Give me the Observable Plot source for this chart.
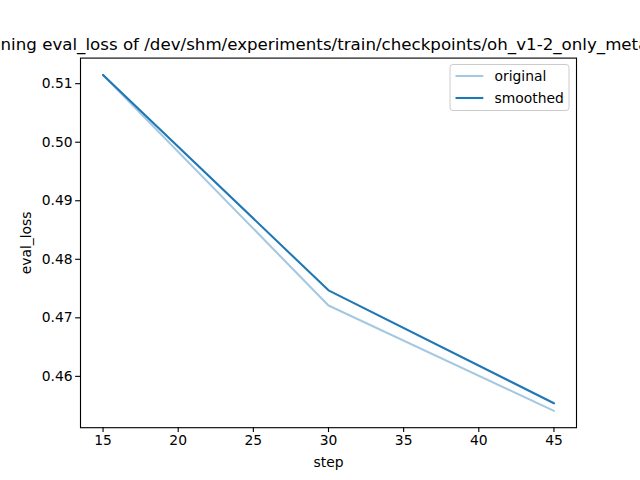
<!DOCTYPE html>
<html><head><meta charset="utf-8">
<script src="https://cdn.jsdelivr.net/npm/d3@7"></script>
<script src="https://cdn.jsdelivr.net/npm/@observablehq/plot@0.6"></script>
<style>
body{margin:0;background:#fff;}
#wrap{position:relative;width:640px;height:480px;font-family:"DejaVu Sans",sans-serif;}
#legend{position:absolute;left:0;top:0;pointer-events:none;}
</style></head><body><div id="wrap"></div>
<script>
const steps = [15, 30, 45];
const original = [0.5115, 0.4721, 0.4541];
const smoothed = [0.5115, 0.4747, 0.4554];
const xTicks = [15, 20, 25, 30, 35, 40, 45];
const yTicks = [0.46, 0.47, 0.48, 0.49, 0.50, 0.51];
const seriesNames = ["original", "smoothed"];
const seriesColors = ["#a5c8e1", "#1f77b4"];
const titleText = "Training eval_loss of /dev/shm/experiments/train/checkpoints/oh_v1-2_only_metadata";
const xLabel = "step";
const yLabel = "eval_loss";

const rows = [];
steps.forEach((s, i) => rows.push({step: s, value: original[i], series: seriesNames[0]}));
steps.forEach((s, i) => rows.push({step: s, value: smoothed[i], series: seriesNames[1]}));

const xExt = d3.extent(steps);
const xPad = (xExt[1] - xExt[0]) * 0.05;
const yExt = d3.extent(original.concat(smoothed));
const yPad = (yExt[1] - yExt[0]) * 0.05;

const pt = 100 / 72;
const fs = 10 * pt;
const plot = Plot.plot({
  width: 640, height: 480,
  marginLeft: 80, marginRight: 64, marginTop: 57.6, marginBottom: 52.8,
  style: {fontFamily: "'DejaVu Sans', sans-serif", fontSize: fs + "px", color: "#000", background: "#fff", overflow: "visible"},
  x: {domain: [xExt[0] - xPad, xExt[1] + xPad]},
  y: {domain: [yExt[0] - yPad, yExt[1] + yPad]},
  color: {domain: seriesNames, range: seriesColors},
  marks: [
    Plot.line(rows.filter(d => d.series === seriesNames[0]), {x: "step", y: "value", stroke: "series", strokeWidth: 1.5 * pt}),
    Plot.line(rows.filter(d => d.series === seriesNames[1]), {x: "step", y: "value", stroke: "series", strokeWidth: 1.5 * pt}),
    Plot.axisX({ticks: xTicks, tickSize: 3.5 * pt, tickPadding: 3, tickFormat: d3.format("d"), stroke: "#000", strokeOpacity: 1, strokeWidth: 0.8 * pt, label: xLabel, labelAnchor: "center", labelArrow: "none", labelOffset: 39, fontSize: fs}),
    Plot.axisY({ticks: yTicks, tickSize: 3.5 * pt, tickPadding: 3, tickFormat: d3.format(".2f"), stroke: "#000", strokeOpacity: 1, strokeWidth: 0.8 * pt, label: yLabel, labelAnchor: "center", labelArrow: "none", labelOffset: 59, fontSize: fs}),
    Plot.frame({stroke: "#000", strokeWidth: 0.8 * pt}),
    Plot.text([titleText], {text: d => d, frameAnchor: "top", dy: -6 * pt, lineAnchor: "bottom", fontSize: 12 * pt})
  ]
});
const wrap = document.getElementById("wrap");
wrap.appendChild(plot);

// legend overlay (upper right, matplotlib style)
const lg = d3.select(wrap).append("svg").attr("id", "legend").attr("width", 640).attr("height", 480);
const lx = 450, ly = 64.5, lw = 119, lh = 46;
lg.append("rect").attr("x", lx).attr("y", ly).attr("width", lw).attr("height", lh).attr("rx", 3)
  .attr("fill", "rgba(255,255,255,0.8)").attr("stroke", "#cccccc").attr("stroke-width", 1);
seriesNames.forEach((name, i) => {
  const cy = ly + 11.5 + i * 22;
  lg.append("line").attr("x1", lx + 5.5).attr("x2", lx + 33.3).attr("y1", cy).attr("y2", cy)
    .attr("stroke", seriesColors[i]).attr("stroke-width", 1.5 * pt);
  lg.append("text").attr("x", lx + 44.5).attr("y", cy).attr("dy", "0.35em")
    .attr("font-family", "'DejaVu Sans', sans-serif").attr("font-size", fs).attr("fill", "#000").text(name);
});
</script></body></html>
